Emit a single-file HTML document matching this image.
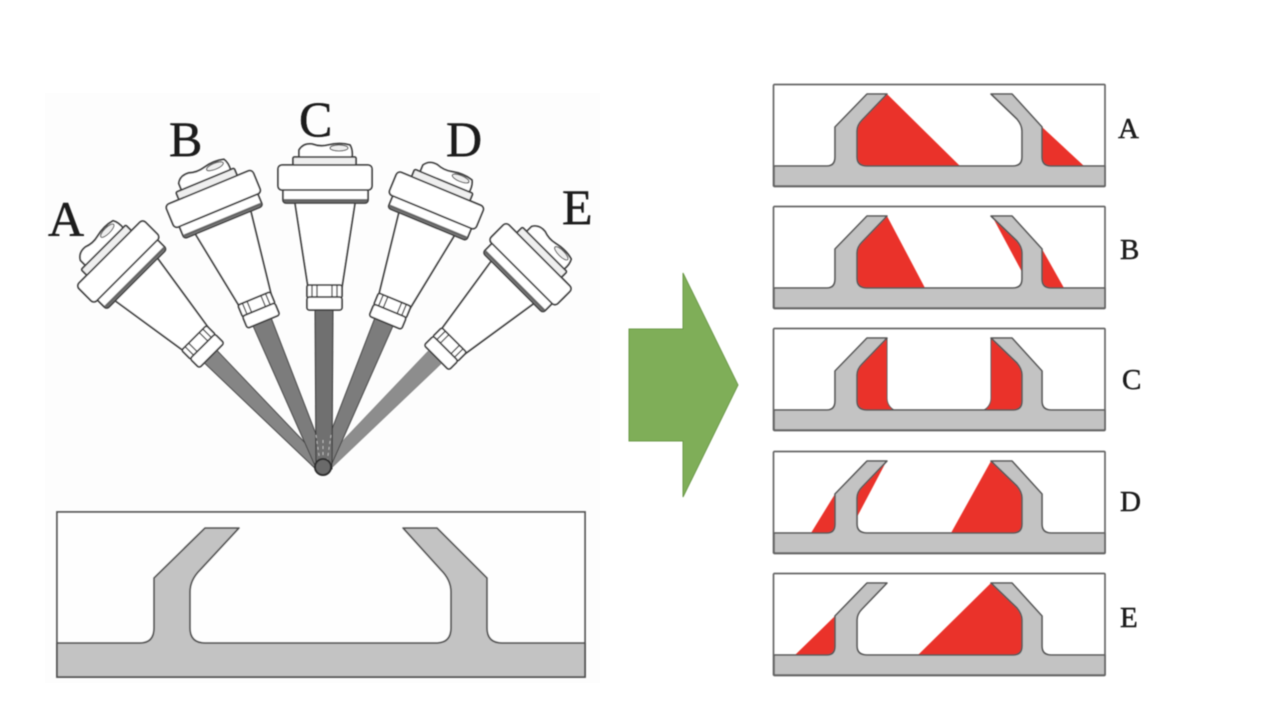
<!DOCTYPE html>
<html><head><meta charset="utf-8"><style>
html,body{margin:0;padding:0;background:#fff}
svg{display:block}
text{font-family:"Liberation Serif",serif;fill:#1a1a1a;stroke:#1a1a1a;stroke-width:.45}
</style></head><body>
<svg width="1262" height="704" viewBox="0 0 1262 704" xmlns="http://www.w3.org/2000/svg">
<defs>
<filter id="b" x="-5%" y="-5%" width="110%" height="110%"><feGaussianBlur stdDeviation="0.6"/></filter>
<g id="sp" fill="#fff" stroke="#3f3f3f" stroke-width="1.8" stroke-linejoin="round">
  <path d="M295 203 L355 203 L342 287 L308 287 Z"/>
  <rect x="307" y="285" width="35" height="13" rx="2"/>
  <path d="M312 285V298M317 285V298M332 285V298M337 285V298" stroke-width="1.3"/>
  <rect x="307" y="297" width="35" height="13" rx="2.5"/>
  <path d="M299 158 L299 150 Q303 143 312 144 Q320 147 328 145 Q340 142 350 145 Q353 150 352 158 Z"/>
  <ellipse cx="339" cy="148" rx="9" ry="3" fill="#eee" stroke-width="1"/>
  <rect x="293" y="157" width="63" height="9" rx="1.5" fill="#efefef"/>
  <rect x="283" y="188" width="85" height="15" rx="3" fill="#fff"/>
  <path d="M284 200.5H367" stroke="#666" stroke-width="3"/>
  <rect x="278" y="165" width="94" height="25" rx="4"/>
</g>
<path id="pf" fill="#c3c3c3" stroke="#555" stroke-width="1.6" stroke-linejoin="round" d="M1 82 L54 82 Q62 82 62 73 L62 43 L94 10 L114 10 L89 36 Q84 41 84 47 L84 73 Q84 82 94 82 L240 82 Q249 82 249 73 L249 47 Q249 41 244 35 L218 10 L239 10 L269 43 L269 73 Q269 82 278 82 L332 82 L332 102 L1 102 Z"/>
<rect id="fr" x="0.5" y="0.5" width="331.5" height="102" rx="1" fill="none" stroke="#666" stroke-width="1.7"/>
</defs>

<rect x="45" y="93" width="555" height="590" fill="#fdfdfd"/>

<g filter="url(#b)">
  <!-- beams -->
  <g stroke="#444" stroke-width="1">
    <g transform="rotate(-45 323 469)"><path d="M314 305 L332 305 L328 469 L318 469 Z" fill="#858585"/></g>
    <g transform="rotate(45 323 469)"><path d="M314 305 L332 305 L328 469 L318 469 Z" fill="#8d8d8d" stroke="#888"/></g>
    <g transform="rotate(-22.5 323 469)"><path d="M313 305 L333 305 L329 469 L317 469 Z" fill="#7b7b7b"/></g>
    <g transform="rotate(22.5 323 469)"><path d="M313 305 L333 305 L329 469 L317 469 Z" fill="#7b7b7b"/></g>
    <path d="M315 305 L333 305 L332 469 L316 469 Z" fill="#6f6f6f" stroke="#333"/>
  </g>
  <path d="M316 435 L320 462 M331 435 L327 462 M323 440 V458" stroke="#bbb" stroke-width="1" stroke-dasharray="3 3" fill="none"/>
  <circle cx="323" cy="467" r="8" fill="#6a6a6a" stroke="#2e2e2e" stroke-width="2"/>

  <use href="#sp" transform="rotate(-45 323 469)"/>
  <use href="#sp" transform="rotate(-22.5 323 469)"/>
  <use href="#sp"/>
  <use href="#sp" transform="rotate(22.5 323 469)"/>
  <use href="#sp" transform="rotate(45 323 469)"/>

  <!-- large profile -->
  <rect x="57" y="512" width="528" height="165" fill="#fefefe" stroke="#555" stroke-width="1.8"/>
  <path fill="#c3c3c3" stroke="#555" stroke-width="1.8" stroke-linejoin="round" d="M57 643 L140 643 Q154 643 154 628 L154 578 L205 528 L239 528 L200 570 Q190 580 190 592 L190 628 Q190 643 205 643 L436 643 Q451 643 451 628 L451 592 Q451 580 441 570 L403 528 L437 528 L487 578 L487 628 Q487 643 502 643 L585 643 L585 677 L57 677 Z"/>

  <!-- arrow -->
  <polygon points="629,329 683,329 683,273 738,385 683,497 683,441 629,441" fill="#7fae59" stroke="#6c9a4a" stroke-width="1"/>

  <!-- Panel A -->
  <g transform="translate(773 84)">
    <path fill="#ea3329" d="M114 10 L187 82 L94 82 Q84 82 84 73 L84 47 Q84 41 89 36 Z M269 43 L311 82 L278 82 Q269 82 269 73 Z"/>
    <use href="#pf"/><use href="#fr"/>
  </g>
  <!-- Panel B -->
  <g transform="translate(773 206)">
    <path fill="#ea3329" d="M114 10 L152 82 L94 82 Q84 82 84 73 L84 47 Q84 41 89 36 Z M269 43 L291 82 L278 82 Q269 82 269 73 Z M219 10 L244 35 Q249 41 249 47 L249 66 Z"/>
    <use href="#pf"/><use href="#fr"/>
  </g>
  <!-- Panel C -->
  <g transform="translate(773 328)">
    <path fill="#ea3329" d="M114 10 L114 70 Q114 78 121 82 L94 82 Q84 82 84 73 L84 47 Q84 41 89 36 Z M218 10 L218 70 Q218 78 211 82 L240 82 Q249 82 249 73 L249 47 Q249 41 244 35 Z"/>
    <path fill="none" stroke="#555" stroke-width="1" d="M114 10 L114 70 Q114 78 121 82 M218 10 L218 70 Q218 78 211 82"/>
    <use href="#pf"/><use href="#fr"/>
  </g>
  <!-- Panel D -->
  <g transform="translate(773 451)">
    <path fill="#ea3329" d="M62 43 L38 82 L54 82 Q62 82 62 73 Z M112 13 L84 66 L84 47 Q84 41 89 36 Z M218 10 L178 82 L240 82 Q249 82 249 73 L249 47 Q249 41 244 35 Z"/>
    <use href="#pf"/><use href="#fr"/>
  </g>
  <!-- Panel E -->
  <g transform="translate(773 573)">
    <path fill="#ea3329" d="M62 43 L22 82 L54 82 Q62 82 62 73 Z M218 10 L145 82 L240 82 Q249 82 249 73 L249 47 Q249 41 244 35 Z"/>
    <use href="#pf"/><use href="#fr"/>
  </g>

  <!-- large labels -->
  <text x="48" y="236" font-size="50">A</text>
  <text x="169" y="156" font-size="50">B</text>
  <text x="299" y="136" font-size="50">C</text>
  <text x="446" y="156" font-size="50">D</text>
  <text x="562" y="224" font-size="50">E</text>
  <!-- small labels -->
  <text x="1118" y="138" font-size="29">A</text>
  <text x="1120" y="259" font-size="29">B</text>
  <text x="1122" y="389" font-size="29">C</text>
  <text x="1120" y="511" font-size="29">D</text>
  <text x="1120" y="627" font-size="29">E</text>
</g>
</svg>
</body></html>
